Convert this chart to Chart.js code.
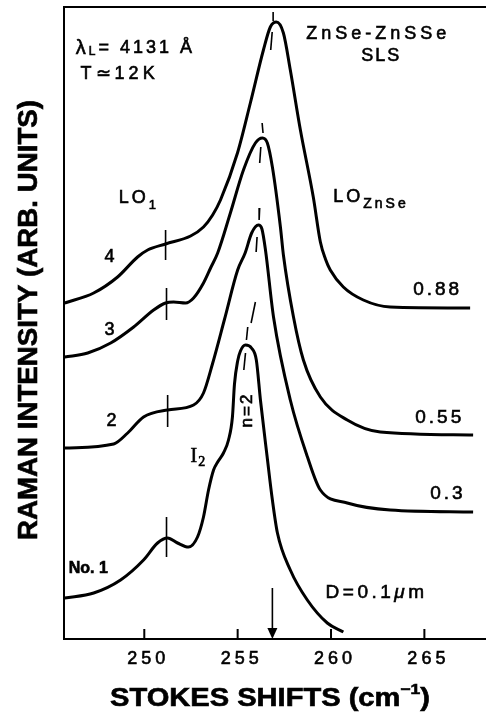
<!DOCTYPE html>
<html lang="en">
<head>
<meta charset="UTF-8">
<title>Raman spectra ZnSe-ZnSSe SLS</title>
<script src="https://cdn.jsdelivr.net/npm/chart.js"></script>
<style>
  html, body { margin: 0; padding: 0; background: #fff; }
  #wrap { width: 486px; height: 712px; }
</style>
</head>
<body>
<div id="wrap"><canvas id="ramanChart" width="486" height="712"></canvas></div>
<script>
// Stokes shift (cm-1) and Raman intensity (arb. units)
// No. 1, D = 0.1 um
const shift1 = [245.74, 247.29, 248.73, 249.96, 250.71, 251.25, 251.78, 252.37, 252.85, 253.17, 253.44, 253.71, 253.93, 254.24, 254.51, 254.72, 254.83, 255.00, 255.15, 255.42, 255.74, 256.00, 256.22, 256.58, 256.86, 257.13, 257.82, 258.73, 259.80, 260.66];
const int1 = [41, 46, 59, 79, 96, 101, 96, 92, 102, 122, 149, 169, 177, 186, 199, 222, 255, 278, 288, 294, 291, 279, 239, 182, 139, 106, 69, 39, 16, 7];
// No. 2, D = 0.3 um
const shift2 = [245.74, 248.36, 249.11, 249.96, 251.25, 252.64, 253.17, 253.65, 254.30, 255.00, 255.40, 255.75, 256.11, 256.30, 256.49, 256.92, 257.82, 258.74, 259.43, 260.87, 263.17, 267.61];
const int2 = [191, 195, 206, 222, 229, 234, 246, 275, 320, 369, 386, 406, 414, 410, 389, 322, 239, 182, 149, 136, 129, 127];
// No. 3, D = 0.55 um
const shift3 = [245.74, 246.97, 248.20, 249.43, 250.50, 251.14, 251.57, 252.21, 252.64, 253.17, 253.55, 253.93, 254.61, 255.31, 255.95, 256.33, 256.59, 256.86, 257.29, 257.45, 257.99, 258.52, 259.43, 260.87, 262.64, 267.61];
const int3 = [282, 286, 296, 312, 329, 336, 337, 336, 341, 356, 371, 386, 426, 469, 496, 501, 496, 472, 412, 384, 322, 279, 242, 219, 207, 204];
// No. 4, D = 0.88 um
const shift4 = [245.74, 247.29, 248.57, 249.64, 250.18, 251.14, 252.48, 253.17, 253.66, 254.08, 254.99, 255.68, 256.38, 256.75, 257.07, 257.45, 257.82, 258.36, 259.05, 259.43, 259.70, 259.96, 260.66, 261.73, 263.17, 267.45];
const int4 = [336, 346, 362, 382, 389, 395, 403, 412, 424, 439, 486, 536, 589, 612, 617, 606, 569, 509, 442, 397, 380, 369, 352, 339, 332, 331];

// short marker strokes: LO1 position and peak positions (start/end of each stroke)
const markX0 = [251.14, 251.19, 251.25, 251.19, 256.90, 256.85, 256.31, 256.24, 256.18, 256.04, 255.95, 255.54, 255.42];
const markX1 = [251.14, 251.19, 251.25, 251.19, 256.90, 256.77, 256.36, 256.18, 256.15, 255.99, 255.72, 255.47, 255.33];
const markY0 = [409, 351, 244, 122, 627, 607, 516, 492, 431, 402, 337, 312, 286];
const markY1 = [379, 319, 212, 82, 618, 589, 506, 476, 419, 387, 316, 299, 269];

const xTicks = [250, 255, 260, 265];
const arrowShift = 256.86;
const arrowTop = 51;

const FONT = '"Liberation Sans", Arial, sans-serif';
const SERIF = '"Liberation Serif", "DejaVu Serif", serif';
function f(size, weight) { return (weight || 'normal') + ' ' + size + 'px ' + FONT; }

function pts(xs, ys) { return xs.map((v, i) => ({ x: v, y: ys[i] })); }

const curveStyle = { borderColor: '#000', borderWidth: 3, pointRadius: 0, fill: false, cubicInterpolationMode: 'monotone' };
const datasets = [
    Object.assign({ label: 'No. 1', data: pts(shift1, int1) }, curveStyle),
    Object.assign({ label: '2', data: pts(shift2, int2) }, curveStyle),
    Object.assign({ label: '3', data: pts(shift3, int3) }, curveStyle),
    Object.assign({ label: '4', data: pts(shift4, int4) }, curveStyle)
];
markX0.forEach((x0, i) => {
    datasets.push({
        label: 'mark' + i,
        data: [{ x: x0, y: markY0[i] }, { x: markX1[i], y: markY1[i] }],
        borderColor: '#000', borderWidth: 1.6, pointRadius: 0, tension: 0
    });
});

// draw a row of text pieces (text, font, vertical offset); a thin stroke thickens the glyphs
function drawRuns(ctx, parts, x, y, align, spacing, heavy) {
    ctx.letterSpacing = (spacing || 0) + 'px';
    ctx.textBaseline = 'middle';
    ctx.textAlign = 'left';
    ctx.lineWidth = heavy === undefined ? 0.6 : heavy;
    let w = 0;
    parts.forEach(p => { ctx.font = p[1]; w += ctx.measureText(p[0]).width; });
    let cx = align === 'center' ? x - w / 2 : x;
    parts.forEach(p => {
        ctx.font = p[1];
        ctx.fillText(p[0], cx, y + (p[2] || 0));
        if (ctx.lineWidth > 0.01) ctx.strokeText(p[0], cx, y + (p[2] || 0));
        cx += ctx.measureText(p[0]).width;
    });
}

// squeeze/stretch a text row to a given width
function fitRuns(ctx, parts, cx, cy, width, angle) {
    ctx.save();
    ctx.translate(cx, cy);
    ctx.rotate(angle || 0);
    ctx.letterSpacing = '0px';
    let w = 0;
    parts.forEach(p => { ctx.font = p[1]; w += ctx.measureText(p[0]).width; });
    ctx.scale(width / w, 1);
    drawRuns(ctx, parts, 0, 0, 'center', 0, 0);
    ctx.restore();
}

const annotate = {
    id: 'annotate',
    afterDatasetsDraw(chart) {
        const { ctx, chartArea: a, scales: { x, y } } = chart;
        const px = v => x.getPixelForValue(v);
        const py = v => y.getPixelForValue(v);
        ctx.save();
        ctx.strokeStyle = '#000';
        ctx.fillStyle = '#000';

        // frame: top line, left and bottom axes
        ctx.lineWidth = 2;
        ctx.beginPath();
        ctx.moveTo(a.right, a.top);
        ctx.lineTo(a.left, a.top);
        ctx.lineTo(a.left, a.bottom);
        ctx.lineTo(a.right, a.bottom);
        // inward ticks
        xTicks.forEach(t => {
            ctx.moveTo(px(t), a.bottom);
            ctx.lineTo(px(t), a.bottom - 10);
        });
        ctx.stroke();

        // tick labels
        xTicks.forEach(t => drawRuns(ctx, [[String(t), f(18)]], px(t) + 4, a.bottom + 20, 'center', 4));

        // arrow at LO ZnSe bulk position
        const ax = px(arrowShift);
        ctx.lineWidth = 1.6;
        ctx.beginPath();
        ctx.moveTo(ax, py(arrowTop));
        ctx.lineTo(ax, a.bottom - 8);
        ctx.stroke();
        ctx.beginPath();
        ctx.moveTo(ax - 5, a.bottom - 11);
        ctx.lineTo(ax + 5, a.bottom - 11);
        ctx.lineTo(ax, a.bottom);
        ctx.closePath();
        ctx.fill();

        // text annotations
        drawRuns(ctx, [['λ', f(20)], ['L', f(12), 4], ['= 4131 Å', f(18)]], px(246.33), py(591), 'left', 3);
        drawRuns(ctx, [['T≃12K', f(18)]], px(246.59), py(565), 'left', 4);
        drawRuns(ctx, [['ZnSe-ZnSSe', f(18)]], px(262.53), py(605), 'center', 4);
        drawRuns(ctx, [['SLS', f(18)]], px(262.69), py(583), 'center', 2);
        drawRuns(ctx, [['LO', f(18)], ['1', f(13), 7]], px(248.63), py(441), 'left', 3);
        drawRuns(ctx, [['LO', f(18)], ['ZnSe', f(14), 7]], px(260.12), py(442), 'left', 3);
        drawRuns(ctx, [['4', f(18)]], px(248.14), py(381.5), 'center', 0);
        drawRuns(ctx, [['3', f(18)]], px(248.14), py(309), 'center', 0);
        drawRuns(ctx, [['2', f(18)]], px(248.25), py(218), 'center', 0);
        drawRuns(ctx, [['No. 1', f(16, 'bold')]], px(245.95), py(70.5), 'left', 0, 0);
        drawRuns(ctx, [['0.88', f(19)]], px(264.40), py(349.5), 'left', 3);
        drawRuns(ctx, [['0.55', f(19)]], px(264.51), py(221.5), 'left', 3);
        drawRuns(ctx, [['0.3', f(19)]], px(265.31), py(145.5), 'left', 3);
        drawRuns(ctx, [['D=0.1', f(19)], ['μ', 'italic 19px ' + FONT], ['m', f(19)]], px(259.71), py(46.5), 'left', 3.5);
        drawRuns(ctx, [['I', '20px ' + SERIF], ['2', '14px ' + SERIF, 6]], px(252.48), py(182.5), 'left', 1);

        ctx.save();
        ctx.translate(px(255.53), py(229));
        ctx.rotate(-Math.PI / 2);
        drawRuns(ctx, [['n=2', f(17)]], 0, 0, 'center', 2);
        ctx.restore();

        // axis titles
        fitRuns(ctx, [['STOKES SHIFTS (cm', f(25, 'bold')], ['−1', f(15, 'bold'), -9], [')', f(25, 'bold')]],
            a.left + 206, a.bottom + 60, 320, 0);
        fitRuns(ctx, [['RAMAN INTENSITY (ARB. UNITS)', f(27, 'bold')]], 30, 320, 440, -Math.PI / 2);

        ctx.restore();
    }
};

const ctx = document.getElementById('ramanChart').getContext('2d');
const ramanChart = new Chart(ctx, {
    type: 'line',
    data: { datasets: datasets },
    options: {
        responsive: false,
        animation: false,
        layout: { padding: { left: 64, top: 7, right: 0, bottom: 73 } },
        plugins: { legend: { display: false }, tooltip: { enabled: false } },
        scales: {
            x: { type: 'linear', min: 245.7, max: 268.3, display: false },
            y: { min: 0, max: 632, display: false }
        }
    },
    plugins: [annotate]
});
</script>
</body>
</html>
